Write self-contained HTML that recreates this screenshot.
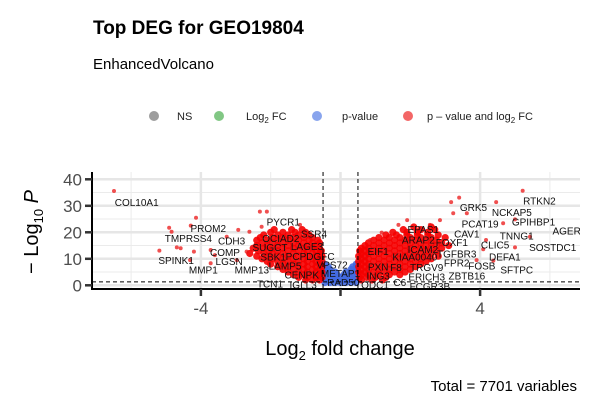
<!DOCTYPE html>
<html><head><meta charset="utf-8">
<style>
body{margin:0;background:#fff;}
svg{display:block;font-family:"Liberation Sans",Arial,sans-serif;}
</style></head>
<body>
<svg id="chart" width="594" height="415" viewBox="0 0 594 415">
  <text x="93" y="34" font-size="19" font-weight="bold" fill="#000">Top DEG for GEO19804</text>
  <text x="93" y="69" font-size="15" fill="#000">EnhancedVolcano</text>
  <g font-size="11" fill="#222">
    <g><circle cx="154" cy="116" r="5" fill="#8c8c8c" opacity="0.85"/><text x="177" y="120">NS</text></g>
    <g><circle cx="219" cy="116" r="5" fill="#4caf50" opacity="0.7"/><text x="246" y="120">Log<tspan font-size="8" dy="3">2</tspan><tspan dy="-3"> FC</tspan></text></g>
    <g><circle cx="317" cy="116" r="5" fill="#6a8de8" opacity="0.8"/><text x="342" y="120">p-value</text></g>
    <g><circle cx="408" cy="116" r="5" fill="#f04040" opacity="0.8"/><text x="427" y="120">p – value and log<tspan font-size="8" dy="3">2</tspan><tspan dy="-3"> FC</tspan></text></g>
  </g>
  <g id="grid"></g>
  <g id="marks"></g>
  <g id="labels" font-size="10" fill="#111"></g>
  <g id="axes"></g>
  <text transform="translate(38,232) rotate(-90)" text-anchor="middle" font-size="20" fill="#000">− Log<tspan font-size="13" dy="5">10</tspan><tspan dy="-5" font-style="italic"> P</tspan></text>
  <text x="340" y="355" text-anchor="middle" font-size="20" fill="#000">Log<tspan font-size="13" dy="5">2</tspan><tspan dy="-5"> fold change</tspan></text>
  <text x="577" y="391" text-anchor="end" font-size="15" fill="#000">Total = 7701 variables</text>
  <defs><clipPath id="pc"><rect x="92" y="160" width="488" height="150"/></clipPath></defs>
</svg>
<script>
const xTicks=[-4,0,4];
const xTickLabels=["-4","","4"];
const xMinor=[-6,-2,2,6];
const yTicks=[0,10,20,30,40];
const yTickLabels=["0","10","20","30","40"];
const yMinor=[5,15,25,35];
const fcCut=[-0.5,0.5];
const pCut=1.3;
const outlierFC=[-6.49,-4.14,-4.91,-4.84,-4.29,-5.19,-4.69,-4.58,-4.2,-4.31,-3.72,-3.6,-3.72,-2.93,-2.31,-2.11,-1.16,-2.61,-2.26,-2.69,-2.97,-3.26,5.22,3.40,4.46,3.17,5.0,3.62,3.23,4.66,5.43,5.0,4.17,4.09,4.38,2.85,2.56,1.91,1.66,1.18,0.85,3.90];
const outlierP=[35.6,25.5,21.7,20.2,22.5,13.1,14.3,14,12.7,9.5,13.3,11.4,8.3,20.9,27.8,27.8,22.8,20.2,22.1,12.7,9.5,18.3,35.7,33.1,31.4,31.4,24.9,27.2,27.2,23.4,18.3,14.3,17.1,13.6,9.3,24.6,22.8,24.6,22.8,19.9,17.1,9.5];
const redRowP=[21,20,19,18,17,16,15,14,13,12,11,10,9,8,7,6,5,4,3,2,
 22,21,20,19,18,17,16,15,14,13,12,11,10,9,8,7,6,5,4,3,2];
const redRowFC=[
 [-1.9,-1.4,-1.1],[-2.0,-1.65,-1.3,-1.0],[-2.2,-1.8,-1.5,-1.2,-0.9],[-2.3,-1.95,-1.65,-1.35,-1.05,-0.8],
 [-2.4,-2.1,-1.8,-1.5,-1.2,-0.9,-0.65],[-2.25,-1.95,-1.65,-1.35,-1.05,-0.8,-0.6],[-2.4,-2.1,-1.8,-1.5,-1.2,-0.95,-0.7],
 [-2.5,-2.2,-1.95,-1.65,-1.35,-1.05,-0.8,-0.6],[-2.35,-2.05,-1.8,-1.5,-1.2,-0.95,-0.7,-0.55],[-2.6,-2.2,-1.95,-1.65,-1.35,-1.05,-0.8,-0.6],
 [-2.4,-2.1,-1.8,-1.5,-1.2,-0.95,-0.7,-0.53],[-2.25,-1.95,-1.65,-1.35,-1.05,-0.8,-0.6],[-2.1,-1.8,-1.5,-1.2,-0.95,-0.7,-0.53],
 [-2.0,-1.65,-1.35,-1.05,-0.8,-0.6],[-1.8,-1.5,-1.2,-0.95,-0.7,-0.53],[-1.65,-1.35,-1.05,-0.8,-0.6],[-1.5,-1.2,-0.95,-0.7,-0.53],
 [-1.35,-1.05,-0.8,-0.6],[-1.2,-0.95,-0.7,-0.53],[-1.0,-0.8,-0.6],
 [2.1,2.6],[1.8,2.3,2.7],[1.5,1.9,2.2,2.5],[1.3,1.6,1.9,2.2,2.5,2.8],[1.1,1.4,1.7,2.0,2.3,2.6,3.0],
 [0.95,1.25,1.55,1.85,2.15,2.45,2.75],[0.8,1.1,1.4,1.7,2.0,2.3,2.6,2.9],[0.7,0.95,1.25,1.55,1.85,2.15,2.45,2.75,3.1],
 [0.6,0.8,1.1,1.4,1.7,2.0,2.3,2.6,2.9],[0.55,0.7,0.95,1.25,1.55,1.85,2.15,2.45,2.75],[0.6,0.8,1.1,1.4,1.7,2.0,2.3,2.6],
 [0.52,0.7,0.95,1.25,1.55,1.85,2.15,2.45,2.8],[0.6,0.8,1.1,1.4,1.7,2.0,2.3,2.6],[0.52,0.7,0.95,1.25,1.55,1.85,2.15,2.45],
 [0.6,0.8,1.1,1.4,1.7,2.0,2.3],[0.52,0.7,0.95,1.25,1.55,1.85,2.15],[0.6,0.8,1.1,1.4,1.7,2.0],[0.52,0.7,0.95,1.25,1.55,1.85],
 [0.6,0.8,1.1,1.4,1.7],[0.55,0.75,1.0,1.3],[0.6,0.9,1.2]];
const blueRowP=[8,7,6,5,4,3,2,1];
const blueRowFC=[[-0.45,0.45],[-0.45,-0.35,0.35,0.45],[-0.45,-0.3,0.3,0.45],[-0.45,-0.3,-0.15,0.15,0.3,0.45],
 [-0.4,-0.25,-0.1,0.1,0.25,0.4],[-0.45,-0.3,-0.15,0,0.15,0.3,0.45],[-0.4,-0.25,-0.1,0.05,0.2,0.35],[-0.45,-0.3,-0.15,0,0.15,0.3,0.45]];
const geneNames=["COL10A1","PROM2","TMPRSS4","CDH3","PYCR1","OCIAD2","SSR4","SUGCT","LAGE3","COMP","SBK1","PCPDGFC","SPINK1","LGSN","MMP1","MMP13","LAMP5","VPS72","CENPK","TCN1","IGLL3","METAP1","RAD50","EIF1","PXN","ING3","ODC1","C6","EPAS1","ARAP2","ICAM2","KIAA0040","F8","TRGV9","ERICH3","FCGR3B","FOXF1","TGFBR3","FPR2","ZBTB16","FOSB","CAV1","CLIC5","DEFA1","SFTPC","GRK5","PCAT19","NCKAP5","RTKN2","GPIHBP1","TNNG1","SOSTDC1","AGER"];
const geneFC=[-5.84,-3.79,-4.36,-3.12,-1.64,-1.71,-0.76,-2.02,-0.96,-3.31,-1.93,-0.87,-4.71,-3.19,-3.93,-2.54,-1.59,-0.24,-1.11,-2.02,-1.07,0,0.08,1.08,1.08,1.08,0.99,1.70,2.37,2.23,2.36,2.13,1.59,2.47,2.47,2.56,3.19,3.33,3.33,3.62,4.05,3.62,4.43,4.71,5.05,3.81,4.0,4.91,5.70,5.53,5.05,6.08,6.48];
const geneP=[31.2,21.5,17.7,16.7,23.8,17.7,19.4,14.3,14.6,12.3,10.6,10.8,9.3,8.9,5.8,5.8,7.3,7.6,3.9,0.5,0.1,4.5,1,12.7,7,3.5,0.1,1,21.1,17.1,13.6,10.6,6.8,6.8,3.2,-0.5,16.1,11.8,8.5,3.5,7.3,19.4,15.2,10.6,5.8,29.3,23.1,27.5,31.8,23.8,18.6,14.3,20.5];

const NS="http://www.w3.org/2000/svg";
const X0=92,X1=580,Y0=172,Y1=289;
function sx(v){return 340.5+v*34.9;}
function sy(v){return 285.3-v*2.65;}
function mk(tag,attrs,parent){const e=document.createElementNS(NS,tag);for(const k in attrs)e.setAttribute(k,attrs[k]);parent.appendChild(e);return e;}
const grid=document.getElementById('grid'),marks=document.getElementById('marks'),labels=document.getElementById('labels'),axes=document.getElementById('axes');
marks.setAttribute('clip-path','url(#pc)');labels.setAttribute('clip-path','url(#pc)');
yMinor.forEach(v=>{const l=mk('line',{x1:X0,x2:X1,y1:sy(v),y2:sy(v),stroke:'#ebebeb','stroke-width':1},grid);
 
 });
xMinor.forEach(v=>{const l=mk('line',{x1:sx(v),x2:sx(v),y1:Y0,y2:Y1,stroke:'#ebebeb','stroke-width':1},grid);
 
 });
yTicks.forEach(v=>{const l=mk('line',{x1:X0,x2:X1,y1:sy(v),y2:sy(v),stroke:'#e6e6e6','stroke-width':2.5},grid);
 
 });
xTicks.forEach(v=>{const l=mk('line',{x1:sx(v),x2:sx(v),y1:Y0,y2:Y1,stroke:'#e6e6e6','stroke-width':2.5},grid);
 
 });
function dot(f,p,col,r){const c=mk('circle',{cx:sx(f),cy:sy(p),r:r,fill:col},marks);
 
 }
blueRowP.forEach((p,i)=>blueRowFC[i].forEach(f=>dot(f,p,'rgba(65,105,225,0.9)',3.5)));
redRowP.forEach((p,i)=>redRowFC[i].forEach(f=>dot(f,p,'rgba(245,0,0,0.9)',3.6)));
outlierFC.forEach((f,i)=>dot(f,outlierP[i],'rgba(235,20,20,0.75)',2));
fcCut.forEach(v=>{const l=mk('line',{x1:sx(v),x2:sx(v),y1:Y0,y2:Y1,stroke:'#000','stroke-width':1,'stroke-dasharray':'4,3'},axes);
 
 });
{const l=mk('line',{x1:X0,x2:X1,y1:sy(pCut),y2:sy(pCut),stroke:'#000','stroke-width':1,'stroke-dasharray':'4,3'},axes);
 
 }
geneNames.forEach((g,i)=>{const t=mk('text',{x:sx(geneFC[i]),y:sy(geneP[i])+3.5,'text-anchor':'middle'},labels);t.textContent=g;
 
 });
{const l=mk('line',{x1:X0,x2:X0,y1:Y0,y2:Y1+1,stroke:'#000','stroke-width':2},axes);
 
 }
{const l=mk('line',{x1:X0-1,x2:X1,y1:Y1,y2:Y1,stroke:'#000','stroke-width':2},axes);
 
 }
yTicks.forEach((v,i)=>{const l=mk('line',{x1:X0-7,x2:X0,y1:sy(v),y2:sy(v),stroke:'#333','stroke-width':2.5},axes);
 
 
 const t=mk('text',{x:X0-10,y:sy(v)+6,'text-anchor':'end','font-size':17,fill:'#4d4d4d'},axes);t.textContent=yTickLabels[i];
 
 });
xTicks.forEach((v,i)=>{const l=mk('line',{x1:sx(v),x2:sx(v),y1:Y1,y2:Y1+7,stroke:'#333','stroke-width':2.5},axes);
 
 
 const t=mk('text',{x:sx(v),y:Y1+25,'text-anchor':'middle','font-size':17,fill:'#4d4d4d'},axes);t.textContent=xTickLabels[i];
 
 });
</script>
</body></html>
